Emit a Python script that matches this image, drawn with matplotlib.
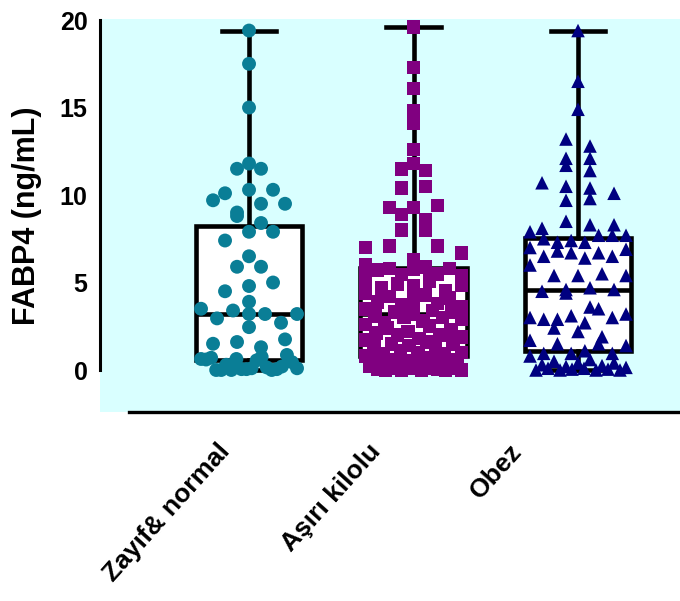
import numpy as np
import matplotlib
matplotlib.use("Agg")
import matplotlib.pyplot as plt
import matplotlib.transforms as mtransforms

plt.rcParams['font.family'] = ['Liberation Sans', 'DejaVu Sans']
plt.rcParams['font.weight'] = 'bold'

# -----------------------------------------------------------------------------
# Data
# -----------------------------------------------------------------------------
groups = ["Zayıf& normal", "Aşırı kilolu", "Obez"]
colors = ["#0A7E96", "#800080", "#000080"]
markers = ["o", "s", "^"]

zayif_normal = [19.4, 17.5, 15.0, 11.8, 11.5, 11.5, 10.1, 9.7, 10.3, 10.3, 9.5,
                9.0, 9.5, 8.8, 8.4, 7.4, 7.9, 7.9, 6.5, 5.9, 5.9, 4.5, 5.0, 4.8,
                3.5, 3.2, 3.9, 3.4, 3.2, 3.2, 2.45, 2.95, 2.7, 1.5, 1.3, 1.6, 1.75,
                0.63, 0.75, 0.3, 0.86, 0.05, 0.7, 0.0, 0.63, 0.1, 0.55, 0.0, 0.2,
                0.05, 0.6, 0.15, 0.0, 0.45, 0.1, 0.0, 0.05]

asiri_kilolu = [19.6, 17.3, 16.1, 14.8, 14.1, 12.6, 11.5, 11.8, 11.4, 10.4, 10.5,
                9.3, 9.4, 8.9, 8.6, 9.3, 8.0, 8.0, 7.0, 7.1, 7.1, 6.7, 6.3, 6.0,
                5.9, 5.8, 5.8, 5.75, 5.7, 5.5, 5.45, 5.4, 5.2, 5.1, 4.9, 4.85,
                4.8, 4.7, 4.5, 4.4, 4.3, 4.2, 4.1, 4.0, 3.9, 3.8, 3.7, 3.6, 3.5,
                3.4, 3.3, 3.3, 3.2, 3.1, 3.0, 3.0, 2.9, 2.8, 2.7, 2.6, 2.5, 2.4,
                2.3, 2.2, 2.1, 2.0, 2.0, 1.9, 1.8, 1.7, 1.6, 1.5, 1.5, 1.4, 1.3,
                1.2, 1.1, 1.0, 1.0, 0.9, 0.9, 0.8, 0.7, 0.6, 0.6, 0.5, 0.5, 0.4,
                0.4, 0.3, 0.3, 0.3, 0.2, 0.2, 0.2, 0.1, 0.1, 0.1, 0.1, 0.05,
                0.05, 0.0, 0.0, 0.0, 0.0, 0.0]

obez = [19.4, 16.5, 14.9, 13.2, 12.1, 12.8, 12.1, 11.7, 11.4, 10.7, 10.4, 9.7,
        10.5, 9.8, 10.1, 8.1, 8.3, 8.5, 8.3, 7.9, 7.7, 7.3, 7.7, 7.3, 7.5, 7.0,
        7.7, 7.4, 6.7, 6.8, 6.9, 6.4, 6.5, 6.5, 6.7, 6.0, 5.5, 5.4, 5.4, 5.4,
        4.5, 4.7, 4.6, 4.6, 4.4, 3.0, 3.5, 2.9, 3.2, 2.7, 3.6, 2.9, 3.0, 3.1,
        2.4, 1.9, 2.2, 1.7, 1.5, 1.5, 1.4, 1.1, 0.95, 0.95, 0.95, 0.8, 0.6,
        0.5, 0.4, 0.4, 0.3, 0.25, 0.2, 0.15, 0.1, 0.1, 0.05, 0.05, 0.0, 0.0,
        0.0, 0.0]

# box statistics as drawn (quartiles, median, min-max whiskers)
box_q1 = [0.57, 0.8, 1.08]
box_med = [3.18, 3.18, 4.55]
box_q3 = [8.24, 5.85, 7.55]
box_min = [0.0, 0.0, 0.0]
box_max = [19.4, 19.6, 19.4]

yticks = [0, 5, 10, 15, 20]

# -----------------------------------------------------------------------------
# Figure
# -----------------------------------------------------------------------------
fig = plt.figure(figsize=(6.8, 6.01), dpi=100)
ax = fig.add_axes([100 / 680, (601 - 412) / 601, 580 / 680, (412 - 19) / 601])
ax.set_facecolor('#D9FFFF')
ax.set_xlim(0.094, 3.62)
ax.set_ylim(-2.4, 20.06)

stats = []
for i in range(3):
    stats.append(dict(med=box_med[i], q1=box_q1[i], q3=box_q3[i],
                      whislo=box_min[i], whishi=box_max[i], fliers=[]))
lw = 3.3
ax.bxp(stats, positions=[1, 2, 3], widths=0.645, capwidths=0.33,
       patch_artist=True, showfliers=False,
       boxprops=dict(facecolor='white', edgecolor='black', linewidth=lw),
       whiskerprops=dict(color='black', linewidth=lw),
       capprops=dict(color='black', linewidth=lw),
       medianprops=dict(color='black', linewidth=lw),
       zorder=2)


def row_offsets(values, bin_w, step_px, half_px):
    """Prism-like scatter: values are binned in rows, each row spread
    symmetrically around the centre. Returns x offsets in pixels."""
    vals = np.asarray(values, dtype=float)
    bins = np.floor(vals / bin_w).astype(int)
    offs = np.zeros(len(vals))
    for b in np.unique(bins):
        idx = np.where(bins == b)[0]
        n = len(idx)
        if n == 1:
            continue
        step = min(step_px, 2 * half_px / (n - 1))
        slots = (np.arange(n) - (n - 1) / 2) * step
        # spread neighbouring values over the row instead of a staircase
        order = np.argsort((np.arange(n) * 0.618034) % 1.0)
        offs[idx[order]] = slots
    return offs


p0 = ax.transData.transform((0, 0))
p1 = ax.transData.transform((1, 1))
px_x = (p1 - p0)[0]

all_data = [zayif_normal, asiri_kilolu, obez]
sizes = [100, 95, 95]
for i, vals in enumerate(all_data):
    offs = row_offsets(vals, 0.9, 24, 48)
    xs = (i + 1) + offs / px_x
    ax.scatter(xs, vals, s=sizes[i], marker=markers[i], color=colors[i],
               edgecolors='none', zorder=3, clip_on=False)

# axes styling (Prism-like)
for side in ['top', 'right']:
    ax.spines[side].set_visible(False)
ax.spines['left'].set_bounds(0, 20)
ax.spines['left'].set_linewidth(2.2)
ax.spines['bottom'].set_bounds(0.2705, 3.62)
ax.spines['bottom'].set_linewidth(2.4)

ax.set_yticks(yticks)
ax.set_yticklabels([str(t) for t in yticks], fontsize=18, fontweight='bold')
ax.tick_params(axis='y', length=0, pad=9)
ax.set_xticks([])

ax.set_ylabel("FABP4 (ng/mL)", fontsize=22, fontweight='bold')
ax.yaxis.set_label_coords(-0.1, 0.5)

trans = mtransforms.offset_copy(ax.get_xaxis_transform(), fig=fig,
                                x=-82, y=-27, units='dots')
for i, g in enumerate(groups):
    ax.text(i + 1, 0, g, transform=trans, rotation=48, ha='center', va='top',
            fontsize=19, fontweight='bold')

fig.savefig('out.png', dpi=100)
